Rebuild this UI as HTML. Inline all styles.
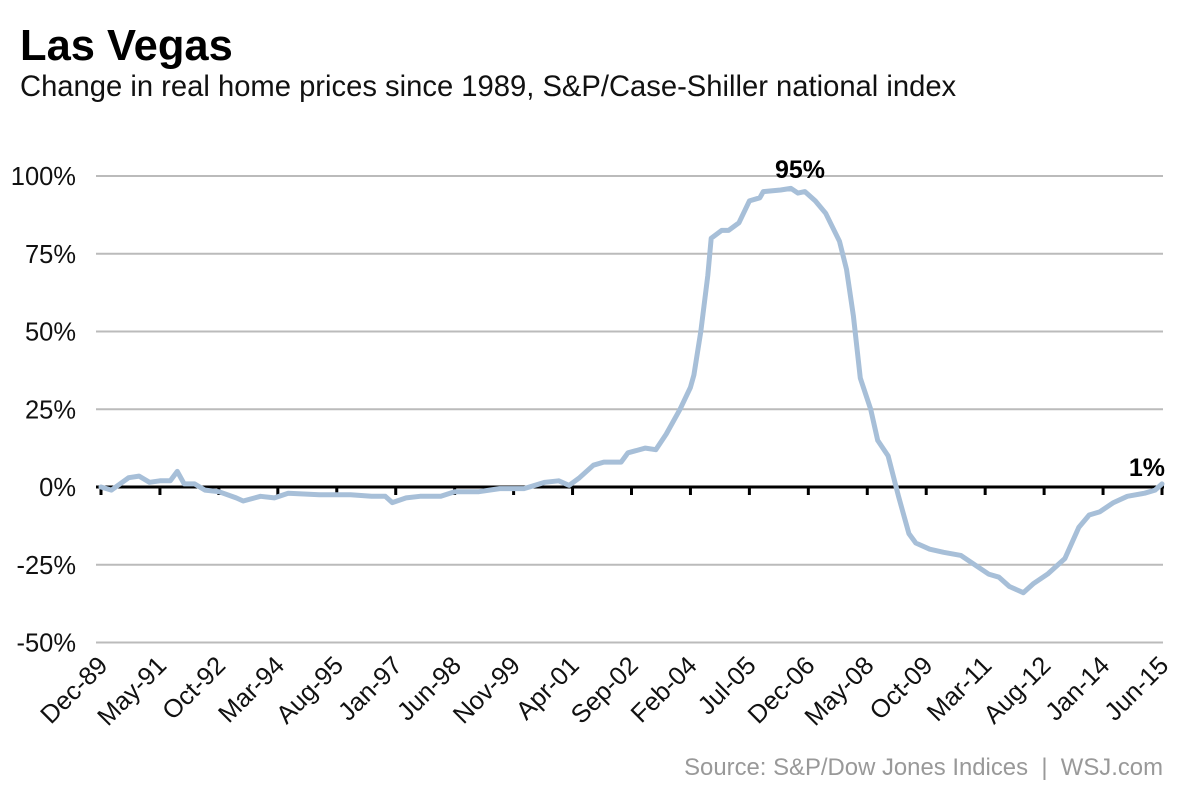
<!DOCTYPE html>
<html><head><meta charset="utf-8"><style>
body{margin:0;background:#fff;}
svg{font-family:"Liberation Sans",Arial,sans-serif;}
</style></head><body>
<svg id="chart" width="1200" height="800">
<text x="20" y="60" font-size="43.5" font-weight="bold" fill="#000">Las Vegas</text>
<text x="20" y="96" font-size="29.2" fill="#111">Change in real home prices since 1989, S&amp;P/Case-Shiller national index</text>
<g id="grid"></g><g id="xaxis"></g><g id="series"></g><g id="ann"></g>
<text x="1163" y="775" font-size="23.9" fill="#999" text-anchor="end" style="white-space:pre">Source: S&amp;P/Dow Jones Indices  |  WSJ.com</text>
</svg>
<script>
const months=[0,3,8,11,14,17,20,22,24,27,30,34,39,41,46,50,54,63,72,78,82,84,88,92,98,102,109,115,122,128,132,135,138,142,145,150,152,157,160,163,167,170,171,173,175,176,179,181,184,187,190,191,196,199,201,203,206,209,213,215,217,219,222,224,227,230,233,235,239,243,248,252,256,259,262,266,269,273,278,282,285,288,292,296,301,304,306];
const values=[0,-1,3,3.5,1.5,2,2,5,1,1,-1,-1.5,-3.5,-4.5,-3,-3.5,-2,-2.5,-2.5,-3,-3,-5,-3.5,-3,-3,-1.5,-1.5,-0.5,-0.5,1.5,2,0.5,3,7,8,8,11,12.5,12,17,25,32,36,50,68,80,82.5,82.5,85,92,93,95,95.5,96,94.5,95,92,88,79,70,55,35,25,15,10,-3,-15,-18,-20,-21,-22,-25,-28,-29,-32,-34,-31,-28,-23,-13,-9,-8,-5,-3,-2,-1,1];
const yTicks=[100,75,50,25,0,-25,-50];
const xLabels=["Dec-89","May-91","Oct-92","Mar-94","Aug-95","Jan-97","Jun-98","Nov-99","Apr-01","Sep-02","Feb-04","Jul-05","Dec-06","May-08","Oct-09","Mar-11","Aug-12","Jan-14","Jun-15"];
const tickStep=17, totalMonths=306;
const X0=101,X1=1162,Y0=487,Ypx=3.11;
const xs=m=>X0+(X1-X0)*m/totalMonths;
const ys=v=>Y0-v*Ypx;
const NS="http://www.w3.org/2000/svg";
function mk(t,a,p){const e=document.createElementNS(NS,t);for(const k in a)e.setAttribute(k,a[k]);p.appendChild(e);return e;}
const grid=document.getElementById('grid'),xa=document.getElementById('xaxis'),ser=document.getElementById('series'),ann=document.getElementById('ann');
yTicks.forEach(v=>{
 if(v!==0){const l=mk('line',{x1:96,x2:1163,y1:ys(v),y2:ys(v),stroke:'#bbb','stroke-width':2},grid);
 
 }
 const t=mk('text',{x:76,y:ys(v)+9,'font-size':25.5,'text-anchor':'end',fill:'#111'},grid);
 t.textContent=v+'%';
 
 
});
const base=mk('line',{x1:96,x2:1164,y1:Y0,y2:Y0,stroke:'#000','stroke-width':3},xa);


xLabels.forEach((lab,i)=>{
 const x=xs(i*tickStep);
 const tk=mk('line',{x1:x,x2:x,y1:Y0,y2:Y0+8,stroke:'#000','stroke-width':3},xa);
 
 
 const t=mk('text',{x:x+8,y:667,'font-size':25.5,'text-anchor':'end',fill:'#111',transform:`rotate(-45 ${x+8} 667)`},xa);
 t.textContent=lab;
 
 
});
const d=months.map((m,i)=>(i?'L':'M')+xs(m).toFixed(1)+','+ys(values[i]).toFixed(1)).join('');
const p=mk('path',{d:d,fill:'none',stroke:'#a7bfd8','stroke-width':5,'stroke-linejoin':'round','stroke-linecap':'round'},ser);


const a1=mk('text',{x:800,y:178,'font-size':25,'font-weight':'bold','text-anchor':'middle'},ann);
a1.textContent='95%';


const a2=mk('text',{x:1165,y:476,'font-size':25,'font-weight':'bold','text-anchor':'end'},ann);
a2.textContent='1%';


</script>
</body></html>
